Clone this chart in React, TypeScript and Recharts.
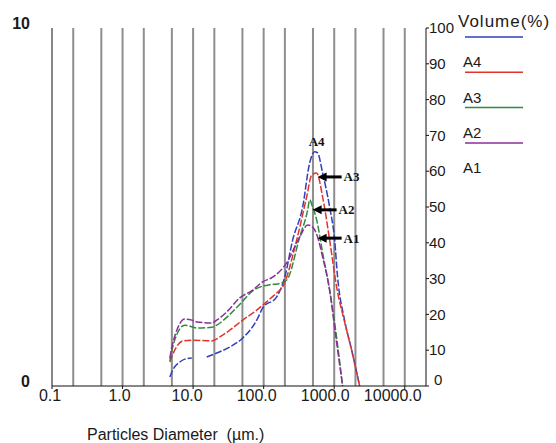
import { LineChart, Line, XAxis, YAxis, ReferenceLine, ReferenceDot } from "recharts"

const SIZE_TICKS = [0.1, 1, 10, 100, 1000, 10000]
const SIZE_LABELS = ["0.1", "1.0", "10.0", "100.0", "1000.0", "10000.0"]
const GRID_SIZES = [0.2, 0.5, 1, 2, 5, 10, 20, 50, 100, 200, 500, 1000, 2000, 5000, 10000]
const VOLUME_TICKS = [0, 10, 20, 30, 40, 50, 60, 70, 80, 90, 100]
const LEFT_TICKS = [0, 10]

// particle size (µm) / volume (%)
const A4_SIZE = [4.68, 5.16, 6.48, 7.63, 9.59, 12, 15.6, 21.6, 33.1, 50.5, 79.8, 97, 153, 199, 258, 357, 449, 528, 582, 685, 861, 1014, 1117, 1403, 1762, 2291]
const A4_VOL = [2.5, 4.5, 6.7, 7.5, 7.8, null, 8.1, 9.2, 10.9, 13.4, 18.4, 21.8, 24.9, 30.4, 40.8, 50.0, 62.3, 65.4, 65.1, 59.5, 50.0, 40.8, 30.4, 18.4, 10.1, 0]

const A3_SIZE = [4.68, 5.51, 7.15, 9.59, 18.4, 23.9, 33.1, 50.5, 79.8, 110, 153, 186, 294, 407, 479, 564, 685, 861, 1081, 1403, 1762, 2291]
const A3_VOL = [6.7, 10.1, 12.6, 12.8, 12.6, 13.7, 15.6, 18.4, 21.2, 23.5, 26.0, 27.7, 40.8, 52.8, 58.9, 59.5, 52.8, 40.8, 27.7, 17.9, 10.1, 0]

const A2_SIZE = [4.68, 5.16, 5.88, 7.63, 11.3, 18.4, 21.6, 33.1, 48.9, 70, 122, 158, 212, 324, 421, 449, 494, 564, 685, 861, 1047, 1315]
const A2_VOL = [7.0, 11.0, 14.4, 17.0, 16.2, 16.4, 17.0, 20.0, 23.4, 26.6, 28.3, 28.5, 29.6, 41.6, 49.2, 52.0, 50.0, 46.4, 37.2, 26.8, 15.6, 0]

const A1_SIZE = [4.68, 5.16, 5.88, 7.63, 9.59, 11.3, 18.4, 21.6, 30, 45.8, 70, 97, 134, 212, 324, 421, 494, 582, 685, 861, 1047, 1315]
const A1_VOL = [7.8, 12.0, 15.6, 18.7, 18.4, 17.9, 17.6, 18.4, 20.7, 24.6, 26.8, 29.1, 30.4, 34.4, 41.6, 45.0, 44.4, 41.6, 36.0, 26.8, 14.2, 0]

const SERIES = [
  { name: "A4", color: "#2f3fc0", size: A4_SIZE, vol: A4_VOL },
  { name: "A3", color: "#e2342a", size: A3_SIZE, vol: A3_VOL },
  { name: "A2", color: "#2f8a3c", size: A2_SIZE, vol: A2_VOL },
  { name: "A1", color: "#8a2f98", size: A1_SIZE, vol: A1_VOL },
]

const NOTE_LABELS = ["A4", "A3", "A2", "A1"]
const NOTE_SIZE = [564, 582, 494, 582]
const NOTE_VOL = [68.2, 58.4, 49.2, 41.3]
const NOTE_ARROW = [false, true, true, true]

const FONT = "'Liberation Sans', Arial, sans-serif"
const LABEL_SHIFT = [-2, -3, -6, -7, -9, -12]

function SizeTick({ x, y, index }: any) {
  return (
    <text x={x + LABEL_SHIFT[index]} y={y} dy={10} textAnchor="middle" fontSize={16} fill="#1a1a1a" fontFamily={FONT}>
      {SIZE_LABELS[index]}
    </text>
  )
}

function LeftTick({ x, y, payload }: any) {
  return (
    <text x={x - 20} y={y - 5} dy="0.35em" textAnchor="end" fontSize={16} fontWeight="bold" fill="#1a1a1a" fontFamily={FONT}>
      {payload.value}
    </text>
  )
}

function RightTick({ x, y, payload }: any) {
  const zero = payload.value === 0
  return (
    <text x={x + (zero ? 5 : 0)} y={y - (zero ? 6 : 0)} dy="0.35em" textAnchor="start" fontSize={15} fill="#1a1a1a" fontFamily={FONT}>
      {payload.value}
    </text>
  )
}

function Note({ cx, cy, label, arrow }: any) {
  if (!arrow) {
    return (
      <text x={cx} y={cy} dy="0.35em" textAnchor="middle" fontSize={13} fontWeight="bold" fontFamily="'Liberation Serif', serif" fill="#111">
        {label}
      </text>
    )
  }
  return (
    <g>
      <polygon points={`${cx},${cy} ${cx + 9},${cy - 4.5} ${cx + 9},${cy + 4.5}`} fill="#000" />
      <line x1={cx + 8} y1={cy} x2={cx + 24} y2={cy} stroke="#000" strokeWidth={3} />
      <text x={cx + 26} y={cy} dy="0.35em" fontSize={13} fontWeight="bold" fontFamily="'Liberation Serif', serif" fill="#111">
        {label}
      </text>
    </g>
  )
}

export default function App() {
  return (
    <div style={{ position: "relative", width: 556, height: 443, background: "#fff" }}>
      <style>{"body{margin:0}"}</style>
      <LineChart width={556} height={443} margin={{ top: 28, right: 90, bottom: 17, left: 22 }}>
        <XAxis
          dataKey="d"
          type="number"
          scale="log"
          domain={[0.1, 20000]}
          ticks={SIZE_TICKS}
          interval={0}
          allowDataOverflow
          tick={<SizeTick />}
          tickSize={3}
          tickLine={{ stroke: "#111" }}
          axisLine={{ stroke: "#111" }}
          height={40}
        />
        <YAxis
          yAxisId="left"
          type="number"
          domain={[0, 10]}
          ticks={LEFT_TICKS}
          interval={0}
          allowDataOverflow
          tick={<LeftTick />}
          tickLine={false}
          tickSize={0}
          axisLine={{ stroke: "#111" }}
          width={30}
        />
        <YAxis
          yAxisId="right"
          orientation="right"
          domain={[0, 100]}
          ticks={VOLUME_TICKS}
          interval={0}
          tick={<RightTick />}
          tickSize={3}
          tickMargin={0}
          tickLine={{ stroke: "#111" }}
          axisLine={{ stroke: "#111" }}
          width={40}
        />
        <ReferenceLine yAxisId="left" y={10} stroke="none" ifOverflow="extendDomain" />
        {GRID_SIZES.map((g) => (
          <ReferenceLine key={g} x={g} yAxisId="right" stroke="#8e8e8e" strokeWidth={2} />
        ))}
        {SERIES.map((s) => (
          <Line
            key={s.name}
            yAxisId="right"
            data={s.size.map((d, i) => ({ d, v: s.vol[i] }))}
            dataKey="v"
            type="monotone"
            stroke={s.color}
            strokeWidth={1.5}
            strokeDasharray="7 2"
            dot={false}
            connectNulls={false}
            isAnimationActive={false}
          />
        ))}
        {NOTE_LABELS.map((label, i) => (
          <ReferenceDot
            key={label}
            yAxisId="right"
            x={NOTE_SIZE[i]}
            y={NOTE_VOL[i]}
            shape={(p: any) => <Note {...p} label={label} arrow={NOTE_ARROW[i]} />}
          />
        ))}
      </LineChart>
      <svg width={556} height={443} style={{ position: "absolute", left: 0, top: 0, pointerEvents: "none" }}>
        <text x={458} y={21} dy="0.35em" fontSize={17} letterSpacing={1} fill="#1a1a1a" fontFamily={FONT}>Volume(%)</text>
        {SERIES.map((s, i) => (
          <g key={s.name}>
            <line x1={465} x2={523} y1={37 + i * 35.3} y2={37 + i * 35.3} stroke={s.color} strokeWidth={1.5} />
            <text x={463} y={62 + i * 35.3} dy="0.35em" fontSize={15} fill="#1a1a1a" fontFamily={FONT}>{s.name}</text>
          </g>
        ))}
        <text x={87} y={434} dy="0.35em" fontSize={16} fill="#1a1a1a" fontFamily={FONT} style={{ whiteSpace: "pre" }}>
          {"Particles Diameter  (µm.)"}
        </text>
      </svg>
    </div>
  )
}
